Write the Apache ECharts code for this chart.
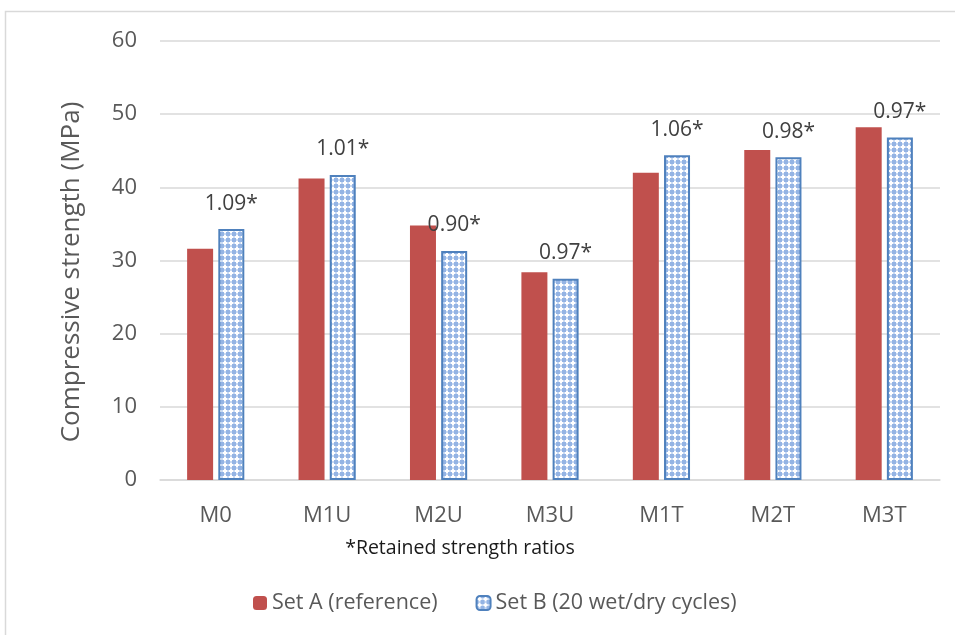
<!DOCTYPE html>
<html>
<head>
<meta charset="utf-8">
<script src="https://cdn.jsdelivr.net/npm/echarts@6/dist/echarts.min.js"></script>
<style>
  html, body { margin: 0; padding: 0; background: #fff; }
  #chart { width: 955px; height: 635px; }
</style>
</head>
<body>
<div id="chart"></div>
<script>
// Mix designs on the category axis
const categories = ['M0', 'M1U', 'M2U', 'M3U', 'M1T', 'M2T', 'M3T'];
// Compressive strength (MPa)
const setA = [31.6, 41.2, 34.8, 28.4, 42.0, 45.1, 48.2];
const setB = [34.3, 41.7, 31.3, 27.5, 44.4, 44.1, 46.8];
// Retained strength ratios (Set B / Set A)
const ratios = ['1.09', '1.01', '0.90', '0.97', '1.06', '0.98', '0.97'];
const yTicks = [0, 10, 20, 30, 40, 50, 60];

const FONT = 'Open Sans';

// Light blue crosshatch tile for the wet/dry series
function makePattern() {
  const c = document.createElement('canvas');
  c.width = 6; c.height = 6;
  const g = c.getContext('2d');
  g.fillStyle = '#94b4e4';
  g.fillRect(0, 0, 6, 6);
  g.fillStyle = '#c9daf3';
  g.fillRect(2, 0, 2, 6);
  g.fillRect(0, 2, 6, 2);
  g.fillStyle = '#ffffff';
  g.fillRect(2, 1, 2, 4);
  g.fillRect(1, 2, 4, 2);
  return c;
}
const pattern = makePattern();

const chart = echarts.init(document.getElementById('chart'));
chart.setOption({
  animation: false,
  backgroundColor: '#ffffff',
  grid: { left: 160, right: 15, top: 41, bottom: 155, containLabel: false },
  graphic: [
    {
      type: 'rect',
      shape: { x: 5.5, y: 11.5, width: 1000, height: 700 },
      style: { fill: 'none', stroke: '#d9d9d9', lineWidth: 1.5 },
      silent: true
    },
    {
      type: 'text',
      x: 460, y: 548,
      style: {
        text: '*Retained strength ratios',
        textAlign: 'center', textVerticalAlign: 'middle',
        font: '19.5px "' + FONT + '"', fill: '#1a1a1a'
      },
      silent: true
    },
    {
      type: 'text',
      x: 72, y: 272,
      rotation: Math.PI / 2,
      style: {
        text: 'Compressive strength (MPa)',
        textAlign: 'center', textVerticalAlign: 'middle',
        font: '26px "' + FONT + '"', fill: '#595959'
      },
      silent: true
    }
  ],
  legend: {
    bottom: 16,
    left: 248,
    itemWidth: 14, itemHeight: 14,
    itemGap: 38,
    textStyle: { fontFamily: FONT, fontSize: 21.5, color: '#595959' },
    data: ['Set A (reference)', 'Set B (20 wet/dry cycles)']
  },
  xAxis: {
    type: 'category',
    data: categories,
    axisLine: { lineStyle: { color: '#d9d9d9', width: 1.5 } },
    axisTick: { show: false },
    axisLabel: { fontFamily: FONT, fontSize: 22, color: '#595959', margin: 25 }
  },
  yAxis: {
    type: 'value',
    min: yTicks[0],
    max: yTicks[yTicks.length - 1],
    interval: 10,
    axisLine: { show: false },
    axisTick: { show: false },
    axisLabel: { fontFamily: FONT, fontSize: 22, color: '#595959', margin: 23 },
    splitLine: { lineStyle: { color: '#d9d9d9', width: 1.5 } }
  },
  series: [
    {
      name: 'Set A (reference)',
      type: 'bar',
      data: setA,
      barWidth: 26,
      barGap: '20%',
      itemStyle: { color: '#c0504d' }
    },
    {
      name: 'Set B (20 wet/dry cycles)',
      type: 'bar',
      data: setB,
      barWidth: 26,
      itemStyle: {
        color: { image: pattern, repeat: 'repeat' },
        borderColor: '#4f81bd',
        borderWidth: 2
      },
      label: {
        show: true,
        position: 'top',
        distance: 15,
        fontFamily: FONT,
        fontSize: 21,
        color: '#404040',
        formatter: p => ratios[p.dataIndex] + '*'
      }
    }
  ]
});
</script>
</body>
</html>
